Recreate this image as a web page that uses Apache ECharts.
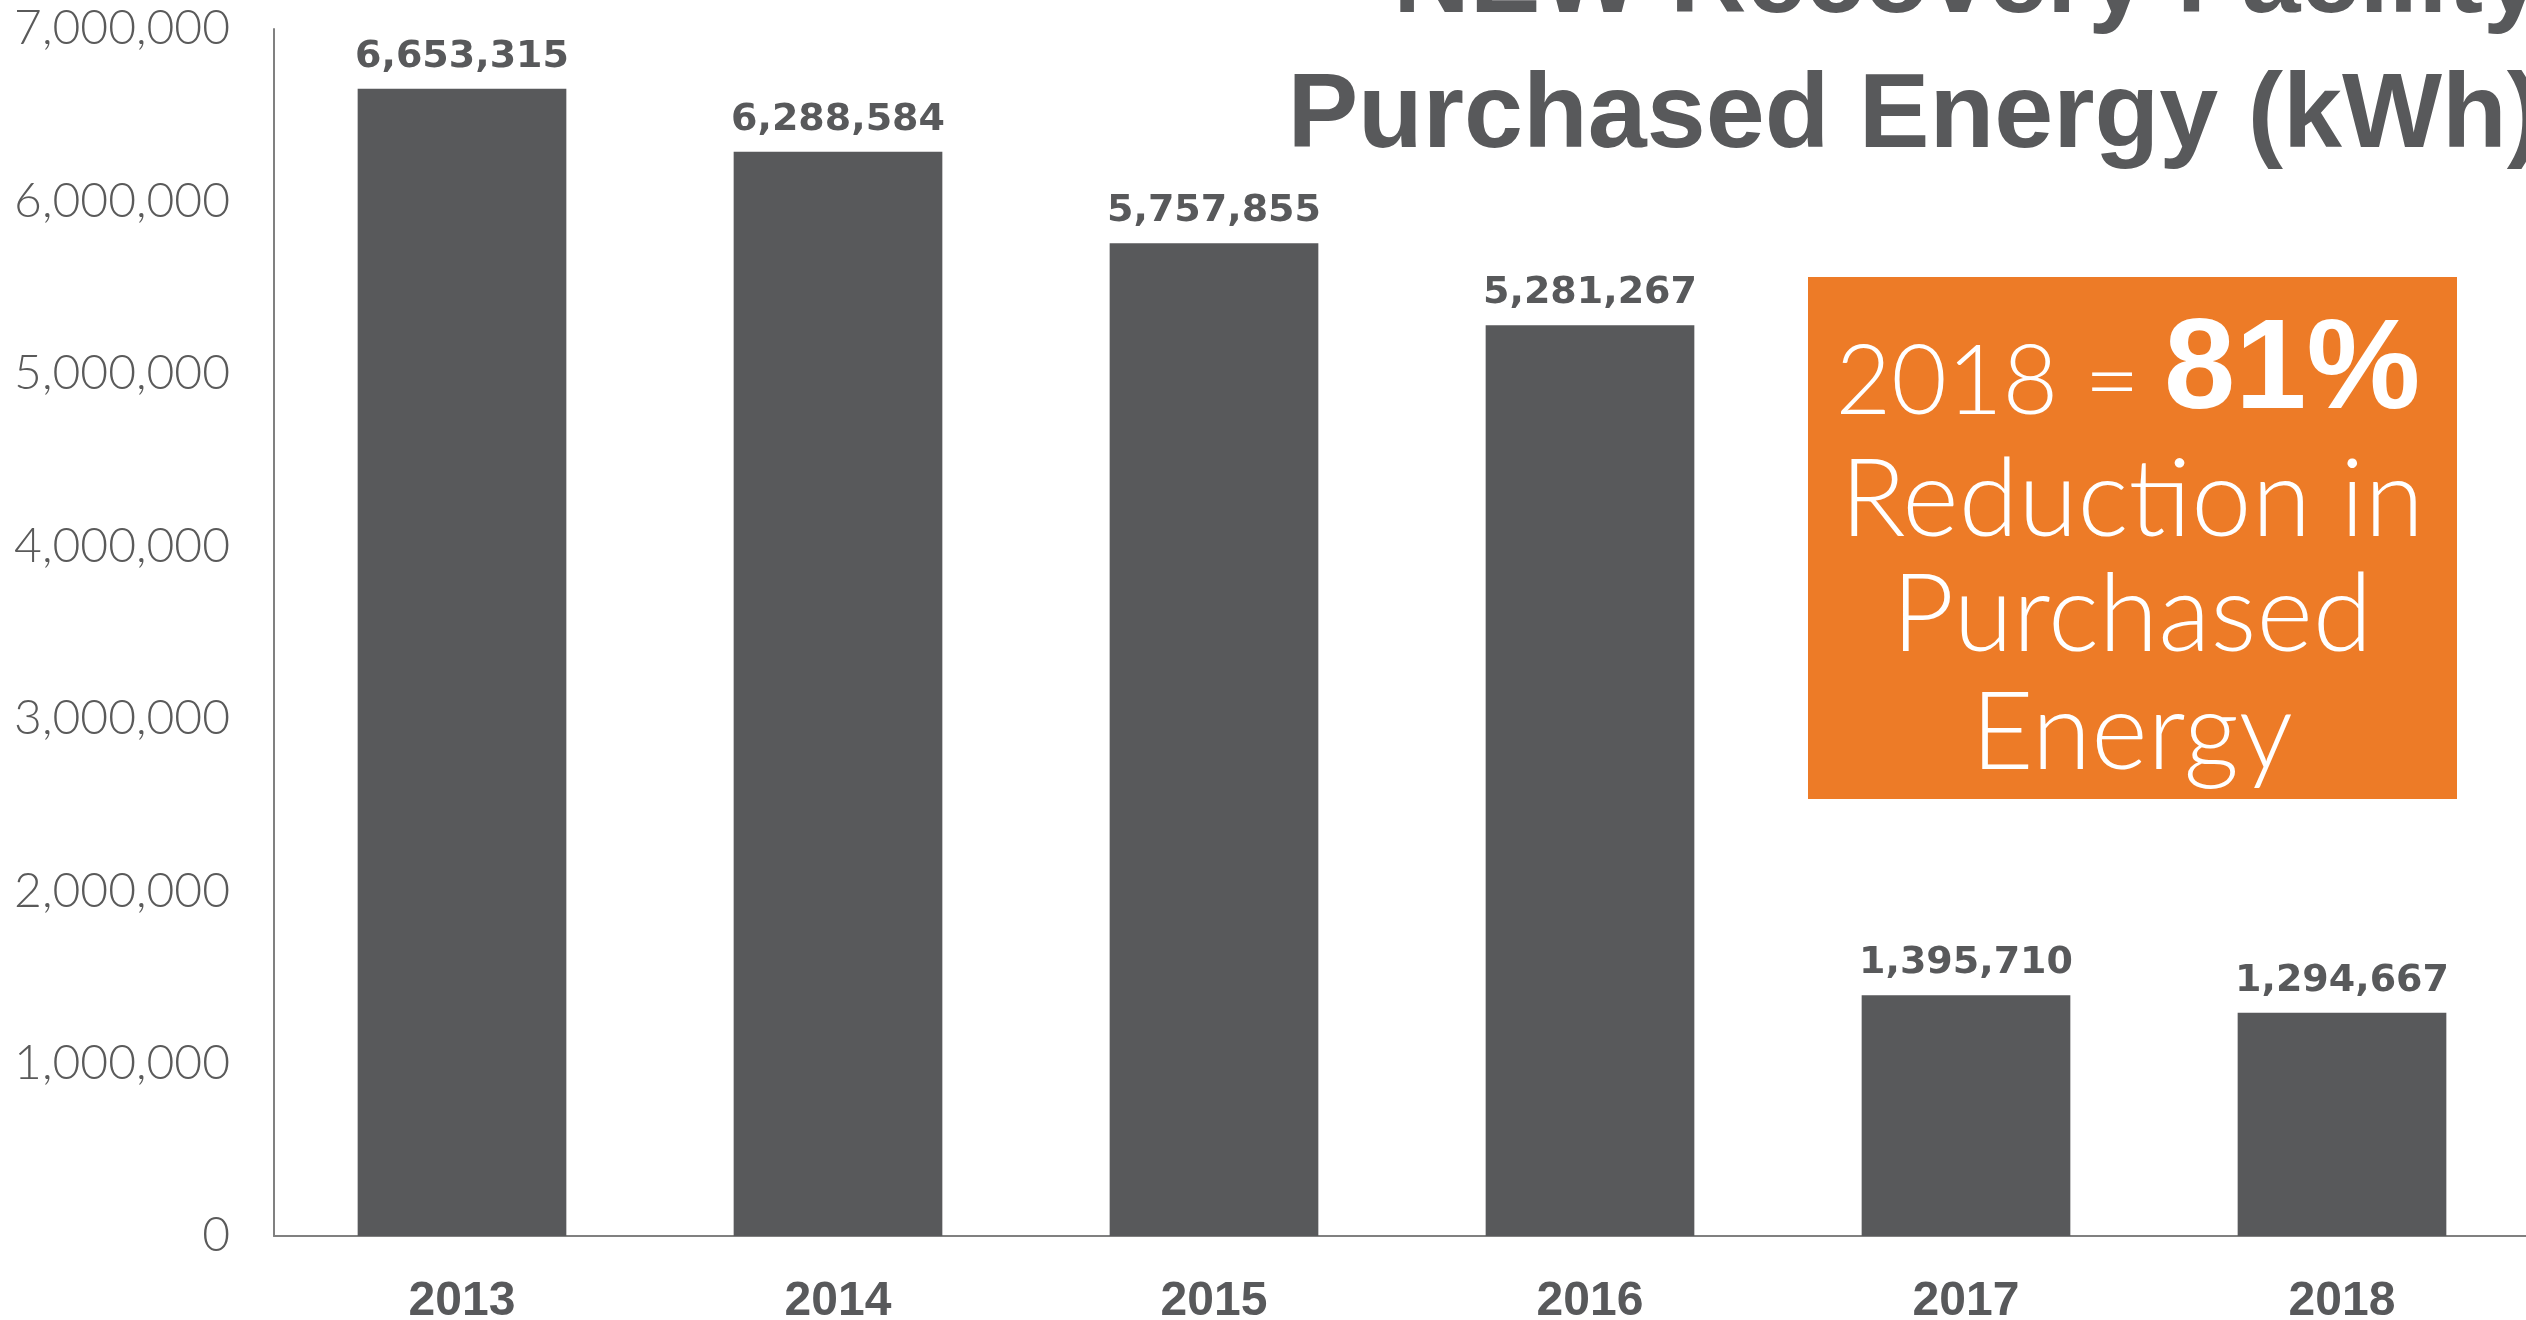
<!DOCTYPE html>
<html>
<head>
<meta charset="utf-8">
<script src="https://cdn.jsdelivr.net/npm/echarts@6/dist/echarts.min.js"></script>
<style>
html,body{margin:0;padding:0;background:#fff;}
#chart{width:2526px;height:1320px;}
</style>
</head>
<body>
<div id="chart"></div>
<script>
var categories = ['2013', '2014', '2015', '2016', '2017', '2018'];
var purchasedKwh = [6653315, 6288584, 5757855, 5281267, 1395710, 1294667];
var yTicks = { min: 0, max: 7000000, interval: 1000000 };
var titleLines = ['NEW Recovery Facility', 'Purchased Energy (kWh)'];
var calloutLead = '2018 =';
var calloutPct = '81%';
var calloutLines = ['Reduction in', 'Purchased', 'Energy'];

function fmt(v) { return Number(v).toLocaleString('en-US'); }

var gray = '#58595B';
var chart = echarts.init(document.getElementById('chart'));
chart.setOption({
  animation: false,
  backgroundColor: '#ffffff',
  grid: { left: 274, right: -4, top: 29, bottom: 84, outerBoundsMode: 'none', containLabel: false },
  xAxis: {
    type: 'category',
    data: categories,
    axisLine: { show: true, lineStyle: { color: '#808080', width: 2 } },
    axisTick: { show: false },
    axisLabel: { margin: 42, color: gray, fontFamily: 'Liberation Sans', fontWeight: 'bold', fontSize: 48 }
  },
  yAxis: {
    type: 'value',
    min: yTicks.min, max: yTicks.max, interval: yTicks.interval,
    axisLine: { show: true, lineStyle: { color: '#808080', width: 2 } },
    axisTick: { show: false },
    splitLine: { show: false },
    axisLabel: { margin: 44, color: '#5a5a5a', fontFamily: 'Lato', fontWeight: 300, fontSize: 48, formatter: fmt }
  },
  series: [{
    type: 'bar',
    data: purchasedKwh,
    barWidth: '55.5%',
    itemStyle: { color: gray },
    label: {
      show: true, position: 'top', distance: 13,
      color: gray, fontFamily: 'DejaVu Sans', fontWeight: 'bold', fontSize: 38,
      formatter: function (p) { return fmt(p.value); }
    }
  }],
  graphic: [
    { type: 'text', x: 2542, y: -17, style: { text: titleLines[0], align: 'right', verticalAlign: 'middle', fill: gray, font: 'bold 106px "Liberation Sans"' } },
    { type: 'text', x: 2542, y: 118, style: { text: titleLines[1], align: 'right', verticalAlign: 'middle', fill: gray, font: 'bold 106px "Liberation Sans"' } },
    { type: 'rect', shape: { x: 1808, y: 277, width: 649, height: 522 }, style: { fill: '#ED7B27' } },
    { type: 'text', x: 2140, y: 383, style: { text: calloutLead, align: 'right', verticalAlign: 'middle', fill: '#ffffff', font: '300 96px Lato' } },
    { type: 'text', x: 2164, y: 373, style: { text: calloutPct, align: 'left', verticalAlign: 'middle', fill: '#ffffff', font: 'bold 128px "Liberation Sans"' } },
    { type: 'text', x: 2132, y: 501, style: { text: calloutLines[0], align: 'center', verticalAlign: 'middle', fill: '#ffffff', font: '300 108px Lato' } },
    { type: 'text', x: 2132, y: 616, style: { text: calloutLines[1], align: 'center', verticalAlign: 'middle', fill: '#ffffff', font: '300 108px Lato' } },
    { type: 'text', x: 2132, y: 734, style: { text: calloutLines[2], align: 'center', verticalAlign: 'middle', fill: '#ffffff', font: '300 108px Lato' } }
  ]
});
</script>
</body>
</html>
